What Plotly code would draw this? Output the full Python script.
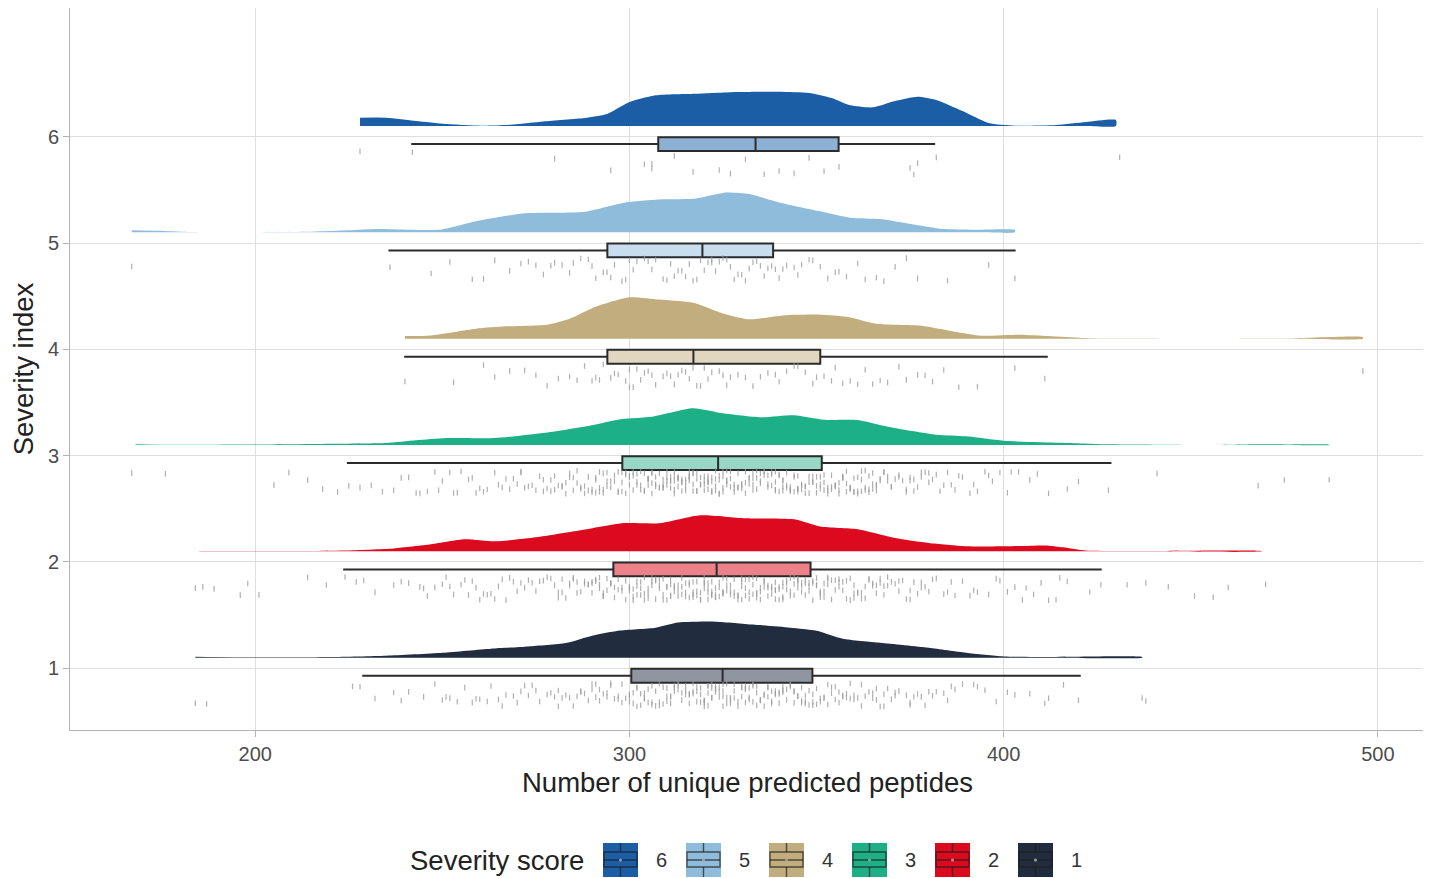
import plotly.graph_objects as go

# ---------------- data ----------------
severity_levels = [6, 5, 4, 3, 2, 1]
legend_labels = ["6", "5", "4", "3", "2", "1"]

# box statistics (number of unique predicted peptides), levels 6..1
box_lower = [241.7, 235.6, 239.8, 224.5, 223.5, 228.6]
box_q1 = [307.7, 294.1, 294.1, 298.1, 295.7, 300.5]
box_median = [333.7, 319.5, 317.1, 323.7, 323.3, 324.9]
box_q3 = [355.9, 338.4, 351.0, 351.4, 348.4, 348.9]
box_upper = [381.7, 403.2, 411.8, 428.8, 426.2, 420.6]

# half-violin density outlines (x = peptides, h = scaled density height)
dens6_x = [228, 235, 243, 251, 261, 269, 277, 288, 294, 300, 307, 318, 329, 340, 348, 354, 359, 365, 371, 377, 382, 389, 396, 403, 414, 422, 430]
dens6_h = [0.078, 0.078, 0.047, 0.019, 0.003, 0.014, 0.042, 0.075, 0.113, 0.226, 0.289, 0.304, 0.320, 0.323, 0.311, 0.264, 0.195, 0.176, 0.235, 0.276, 0.245, 0.141, 0.028, 0.003, 0.009, 0.038, 0.056]

dens5_x = [167, 174, 182, 193, 214, 225, 233, 244, 250, 259, 272, 282, 288, 299, 309, 317, 326, 332, 340, 351, 359, 367, 374, 383, 394, 403]
dens5_h = [0.019, 0.014, 0.003, 0.0005, 0.005, 0.019, 0.031, 0.022, 0.028, 0.104, 0.179, 0.184, 0.193, 0.282, 0.311, 0.315, 0.375, 0.360, 0.282, 0.198, 0.138, 0.125, 0.085, 0.035, 0.025, 0.022]

dens4_x = [240, 247, 259, 267, 278, 284, 291, 300, 308, 317, 325, 332, 341, 351, 358, 366, 378, 387, 394, 404, 412, 421, 429, 455, 477, 496]
dens4_h = [0.025, 0.031, 0.094, 0.116, 0.132, 0.188, 0.301, 0.390, 0.368, 0.338, 0.238, 0.182, 0.219, 0.226, 0.207, 0.141, 0.122, 0.066, 0.028, 0.038, 0.025, 0.007, 0.001, 0.0, 0.003, 0.014]

dens3_x = [168, 176, 201, 222, 235, 243, 251, 264, 277, 289, 298, 306, 317, 325, 335, 344, 352, 361, 369, 382, 390, 400, 415, 428, 442, 457, 468, 476, 487]
dens3_h = [0.007, 0.003, 0.005, 0.012, 0.019, 0.044, 0.066, 0.066, 0.113, 0.179, 0.245, 0.266, 0.346, 0.298, 0.261, 0.280, 0.238, 0.235, 0.172, 0.097, 0.082, 0.040, 0.022, 0.007, 0.003, 0.0005, 0.007, 0.005, 0.003]

dens2_x = [185, 209, 224, 237, 247, 256, 264, 275, 287, 298, 308, 319, 331, 344, 351, 361, 371, 380, 390, 401, 411, 416, 422, 437, 469]
dens2_h = [0.003, 0.003, 0.009, 0.028, 0.066, 0.113, 0.094, 0.132, 0.198, 0.264, 0.264, 0.339, 0.311, 0.301, 0.233, 0.207, 0.125, 0.078, 0.047, 0.047, 0.056, 0.038, 0.007, 0.003, 0.003]

dens1_x = [184, 200, 220, 235, 250, 263, 273, 283, 290, 297, 307, 313, 323, 333, 343, 350, 357, 367, 380, 390, 400, 413, 437]
dens1_h = [0.009, 0.003, 0.007, 0.019, 0.047, 0.085, 0.106, 0.138, 0.207, 0.254, 0.282, 0.330, 0.339, 0.311, 0.282, 0.254, 0.179, 0.141, 0.094, 0.047, 0.012, 0.007, 0.007]

# individual samples (number of unique predicted peptides)
pts6 = [228, 242, 280, 295, 304, 306, 306, 312, 317, 324, 327, 331, 336, 340, 344, 348, 352, 356, 375, 376, 377, 382, 431]

pts5 = [167, 236, 247, 252, 258, 261, 264, 268, 271, 273, 275, 277, 279, 280, 282, 284, 285, 287, 289, 290,
        291, 293, 294, 295, 296, 298, 299, 300, 301, 302, 304, 305, 306, 307, 309, 310, 311, 312, 313, 314,
        315, 316, 317, 318, 319, 320, 321, 322, 322, 323, 324, 325, 326, 327, 328, 329, 330, 331, 332, 333,
        334, 335, 336, 337, 338, 339, 340, 341, 342, 344, 345, 346, 348, 349, 351, 353, 355, 356, 358, 361,
        363, 366, 368, 371, 374, 377, 385, 396, 403]

pts4 = [240, 253, 261, 264, 268, 272, 275, 278, 281, 284, 286, 288, 290, 291, 292, 293, 295, 296, 297, 299,
        300, 300, 301, 302, 303, 304, 305, 306, 307, 309, 310, 311, 312, 313, 314, 315, 316, 317, 318, 319,
        320, 321, 322, 324, 325, 326, 327, 329, 331, 333, 335, 337, 339, 340, 342, 344, 345, 347, 349, 350,
        352, 354, 355, 357, 359, 361, 363, 365, 367, 369, 372, 374, 377, 379, 381, 384, 388, 393, 403, 411, 496]

pts3 = [167, 176, 214, 222, 225, 231, 237, 241, 244, 246, 248, 250, 252, 254, 255, 257, 259,
        260, 262, 264, 265, 267, 269, 270, 271, 272, 273, 275, 276, 277, 278, 279,
        280, 280, 281, 282, 283, 283, 284, 285, 286, 286, 287, 288, 289, 289,
        290, 290, 291, 291, 292, 292, 293, 293, 294, 294, 295, 295, 296, 297, 297, 298, 298, 299, 299,
        300, 300, 301, 301, 302, 302, 303, 303, 304, 304, 305, 305, 305, 306, 306, 307, 307, 308, 308, 309, 309, 309,
        310, 310, 310, 311, 311, 311, 312, 312, 312, 313, 313, 313, 314, 314, 314, 315, 315, 315, 316, 316, 316,
        317, 317, 317, 318, 318, 319, 319,
        320, 320, 320, 321, 321, 321, 322, 322, 322, 323, 323, 324, 324, 324, 325, 325, 326, 326, 326, 327, 327,
        328, 328, 329, 329,
        330, 330, 331, 331, 332, 332, 333, 333, 333, 334, 334, 335, 335, 336, 336, 337, 337, 338, 338, 339, 339, 339,
        340, 340, 341, 341, 341, 342, 342, 343, 343, 343, 344, 344, 345, 345, 345, 346, 346, 347, 347, 348, 348, 349, 349,
        350, 350, 351, 351, 352, 352, 353, 353, 354, 354, 355, 355, 356, 356, 357, 357, 358, 358, 359, 359,
        360, 360, 361, 361, 362, 362, 363, 363, 364, 364, 365, 365, 366, 366, 367, 368, 368, 369,
        370, 371, 372, 373, 374, 375, 375, 376, 377, 378, 379, 380, 381, 383, 384, 386, 387, 389,
        391, 393, 395, 397, 399, 401, 404, 407, 412, 417, 428, 441, 468, 475, 487,
        205, 209, 218, 228, 234, 239, 243, 249, 253, 258, 261, 266, 268, 271, 274, 277, 279, 282, 284, 285,
        287, 288, 291, 292, 293, 294, 296, 297, 298, 299, 300, 301, 302, 303, 304, 305, 306, 306, 307, 308,
        309, 310, 311, 312, 312, 313, 314, 315, 316, 316, 317, 318, 318, 319, 320, 321, 321, 322, 323, 323,
        324, 325, 325, 326, 327, 328, 329, 330, 331, 332, 333, 334, 335, 336, 337, 338, 339, 340, 341, 342,
        343, 344, 345, 346, 347, 348, 349, 350, 351, 352, 353, 354, 355, 356, 357, 358, 359, 360, 361, 362,
        363, 364, 365, 366, 367, 369, 370, 372, 374, 376, 378, 380, 382, 385, 388, 392, 396, 402, 409, 420]

pts2 = [184, 189, 196, 198, 214, 224, 227, 232, 237, 241, 244, 246, 248,
        250, 252, 253, 255, 256, 258, 259, 260, 261, 263, 264, 265, 266, 268, 269,
        270, 271, 273, 274, 275, 276, 278, 279,
        280, 281, 281, 282, 283, 284, 285, 285, 286, 287, 288, 288, 289,
        290, 290, 291, 291, 292, 292, 293, 293, 294, 294, 295, 295, 296, 296, 297, 298, 298, 299,
        300, 300, 301, 301, 302, 302, 303, 303, 304, 304, 305, 305, 306, 306, 307, 307, 308, 308, 309, 309,
        310, 310, 311, 311, 311, 312, 312, 313, 313, 314, 314, 315, 315, 316, 316, 317, 317, 317, 318, 318, 319, 319,
        320, 320, 320, 321, 321, 321, 322, 322, 322, 323, 323, 323, 324, 324, 325, 325, 325, 326, 326, 327, 327,
        328, 328, 329, 329,
        330, 330, 330, 331, 331, 332, 332, 333, 333, 334, 334, 334, 335, 335, 336, 336, 337, 337, 338, 338, 339, 339, 339,
        340, 340, 341, 341, 341, 342, 342, 343, 343, 344, 344, 345, 345, 345, 346, 346, 347, 347, 348, 348, 349, 349,
        350, 350, 351, 351, 352, 352, 353, 353, 354, 355, 355, 356, 356, 357, 357, 358, 359, 359,
        360, 360, 361, 362, 362, 363, 364, 364, 365, 366, 366, 367, 368, 368, 369,
        370, 371, 372, 373, 374, 375, 376, 377, 378, 379, 380, 382, 384, 385, 387, 389,
        391, 393, 396, 398, 401, 403, 406, 408, 410, 412, 414, 417, 423, 426,
        438, 444, 451, 460, 470,
        186, 201, 219, 229, 239, 245, 251, 257, 262, 267, 272, 277, 282, 284, 286, 289, 290, 292, 293, 295,
        297, 299, 300, 301, 302, 303, 304, 305, 306, 307, 308, 309, 310, 311, 312, 313, 314, 315, 316, 317,
        318, 319, 320, 321, 322, 323, 324, 325, 326, 327, 328, 329, 330, 331, 332, 333, 334, 335, 336, 337,
        338, 339, 340, 341, 342, 343, 344, 345, 346, 347, 348, 349, 350, 351, 352, 353, 354, 356, 358, 360,
        361, 363, 365, 367, 369, 372, 375, 378, 381, 386, 392, 399, 405, 415, 433, 456]

pts1 = [184, 187, 228, 232, 237, 241, 245, 248, 250, 252, 254, 256, 258,
        260, 262, 263, 265, 267, 269, 270, 271, 272, 274, 275, 276, 278, 279,
        280, 281, 282, 283, 284, 285, 286, 287, 288, 289,
        290, 290, 291, 292, 292, 293, 294, 294, 295, 296, 297, 297, 298, 299,
        300, 300, 301, 301, 302, 302, 303, 303, 304, 304, 305, 305, 306, 306, 307, 307, 308, 308, 309,
        310, 310, 310, 311, 311, 312, 312, 313, 313, 314, 314, 315, 315, 316, 316, 317, 317, 318, 318, 318, 319, 319,
        320, 320, 320, 321, 321, 321, 322, 322, 322, 323, 323, 323, 324, 324, 325, 325, 325, 326, 326, 327, 327,
        328, 328, 329,
        330, 330, 331, 331, 331, 332, 332, 333, 333, 334, 334, 335, 335, 336, 336, 337, 337, 338, 338, 339, 339, 339,
        340, 340, 341, 341, 342, 342, 343, 343, 344, 344, 345, 345, 346, 346, 347, 347, 348, 348, 349, 349,
        350, 350, 351, 352, 352, 353, 354, 354, 355, 356, 356, 357, 358, 358, 359, 359,
        360, 361, 362, 363, 364, 365, 366, 366, 367, 368, 369, 370, 371, 372, 374, 375, 376, 377, 378, 379,
        381, 382, 384, 385, 387, 389, 392, 395, 398, 403, 407, 412, 416, 420, 437, 438,
        226, 239, 251, 259, 266, 273, 281, 287, 291, 295, 298, 300, 302, 304, 306, 308, 309, 311, 312, 313,
        315, 316, 317, 319, 320, 321, 322, 323, 324, 325, 326, 327, 328, 329, 330, 331, 332, 333, 334, 335,
        336, 337, 338, 340, 341, 343, 344, 346, 347, 349, 351, 353, 355, 357, 360, 362, 365, 368, 371, 375,
        380, 386, 393, 401, 411]

dens_x = {6: dens6_x, 5: dens5_x, 4: dens4_x, 3: dens3_x, 2: dens2_x, 1: dens1_x}
dens_h = {6: dens6_h, 5: dens5_h, 4: dens4_h, 3: dens3_h, 2: dens2_h, 1: dens1_h}
points = {6: pts6, 5: pts5, 4: pts4, 3: pts3, 2: pts2, 1: pts1}

# ---------------- style ----------------
dens_color = {6: "#1B5EA6", 5: "#8FBCDB", 4: "#C1AD7D", 3: "#1DAF85", 2: "#DC0A1E", 1: "#212C3E"}
box_fill = {6: "#8DB0D5", 5: "#C8DEEE", 4: "#E1D7C0", 3: "#97D8C4", 2: "#EC8189", 1: "#9096A0"}
DENS_BASE = 0.10      # density baseline offset above the level
BOX_POS = -0.07       # box centre offset below the level
BOX_W = 0.13
JIT_TOP, JIT_SPAN = -0.14, 0.22
FONT = "Liberation Sans, Arial, sans-serif"
TITLE_SIZE = 27.5
TICK_SIZE = 20

# page geometry (the page body adds an 8px offset)
FIG_W, FIG_H = 1423, 870
M_L, M_R, M_T, M_B = 62, 6, 0, 148
PLOT_W = FIG_W - M_L - M_R
PLOT_H = FIG_H - M_T - M_B


def px_to_paper(px, py):
    """window pixel -> paper coordinates (plot area starts at window 70, 8)"""
    return (px - (8 + M_L)) / PLOT_W, ((8 + M_T + PLOT_H) - py) / PLOT_H


fig = go.Figure()

for i, lvl in enumerate(severity_levels):
    # jittered raw points (vertical jitter only, deterministic quadratic Weyl sequence)
    xs = points[lvl]
    ys = [lvl + JIT_TOP - JIT_SPAN * ((k * k * 0.6180339887 + k * 0.4142135 + 0.37 * i) % 1.0)
          for k in range(len(xs))]
    fig.add_trace(go.Scatter(
        x=xs, y=ys, mode="markers",
        marker=dict(symbol="line-ns", size=4, line=dict(width=1.2, color="rgba(155,155,155,0.8)")),
        showlegend=False, hoverinfo="skip"))

    # half-violin density
    bx = dens_x[lvl]
    base = lvl + DENS_BASE
    px = list(bx) + list(reversed(bx))
    py = [base + h for h in dens_h[lvl]] + [base] * len(bx)
    fig.add_trace(go.Scatter(
        x=px, y=py, mode="lines", fill="toself",
        fillcolor=dens_color[lvl], line=dict(color=dens_color[lvl], width=0, shape="spline", smoothing=0.6),
        showlegend=False, hoverinfo="skip"))

    # precomputed boxplot
    fig.add_trace(go.Box(
        orientation="h", y=[lvl + BOX_POS],
        q1=[box_q1[i]], median=[box_median[i]], q3=[box_q3[i]],
        lowerfence=[box_lower[i]], upperfence=[box_upper[i]],
        width=BOX_W, whiskerwidth=0, boxpoints=False,
        fillcolor=box_fill[lvl], line=dict(color="#2b2b2b", width=2),
        showlegend=False, hoverinfo="skip"))

# ---------------- manual legend (ggplot-style keys) ----------------
shapes = []
annotations = []
LEG_CY = 860
KEY_X0, KEY_STEP, KEY_W, KEY_H = 603, 83, 35, 34
KEY_LINE = dict(width=1.4, color="rgba(30,30,30,0.7)")
tx, ty = px_to_paper(497, LEG_CY)
annotations.append(dict(x=tx, y=ty, xref="paper", yref="paper", text="Severity score", showarrow=False,
                        xanchor="center", yanchor="middle", font=dict(size=TITLE_SIZE, color="#222222", family=FONT)))
for i, lvl in enumerate(severity_levels):
    x0 = KEY_X0 + KEY_STEP * i
    x1 = x0 + KEY_W
    y0, y1 = LEG_CY - KEY_H / 2, LEG_CY + KEY_H / 2
    xc = (x0 + x1) / 2
    bt, bb = LEG_CY - 8, LEG_CY + 7
    a0, b0 = px_to_paper(x0, y1)
    a1, b1 = px_to_paper(x1, y0)
    shapes.append(dict(type="rect", xref="paper", yref="paper", x0=a0, x1=a1, y0=b0, y1=b1,
                       fillcolor=dens_color[lvl], line=dict(width=0), layer="above"))
    c0, d0 = px_to_paper(x0 + 1, bb)
    c1, d1 = px_to_paper(x1 - 1, bt)
    shapes.append(dict(type="rect", xref="paper", yref="paper", x0=c0, x1=c1, y0=d0, y1=d1,
                       line=KEY_LINE, layer="above"))
    m0, mm = px_to_paper(x0 + 1, LEG_CY)
    m1, _ = px_to_paper(x1 - 1, LEG_CY)
    shapes.append(dict(type="line", xref="paper", yref="paper", x0=m0, x1=m1, y0=mm, y1=mm,
                       line=KEY_LINE, layer="above"))
    wx, wt = px_to_paper(xc, y0)
    _, wb = px_to_paper(xc, bt)
    shapes.append(dict(type="line", xref="paper", yref="paper", x0=wx, x1=wx, y0=wt, y1=wb,
                       line=KEY_LINE, layer="above"))
    _, wt2 = px_to_paper(xc, bb)
    _, wb2 = px_to_paper(xc, y1)
    shapes.append(dict(type="line", xref="paper", yref="paper", x0=wx, x1=wx, y0=wt2, y1=wb2,
                       line=KEY_LINE, layer="above"))
    # centre dot (point key)
    p0, q0 = px_to_paper(xc - 1.5, LEG_CY + 1.5)
    p1, q1 = px_to_paper(xc + 1.5, LEG_CY - 1.5)
    shapes.append(dict(type="circle", xref="paper", yref="paper", x0=p0, x1=p1, y0=q0, y1=q1,
                       fillcolor="rgba(170,170,170,0.9)", line=dict(width=0), layer="above"))
    lx, ly = px_to_paper(x0 + 58, LEG_CY)
    annotations.append(dict(x=lx, y=ly, xref="paper", yref="paper", text=legend_labels[i], showarrow=False,
                            xanchor="center", yanchor="middle", font=dict(size=TICK_SIZE, color="#333333", family=FONT)))

axis_common = dict(
    showgrid=True, gridcolor="#DEDEDE", gridwidth=1, zeroline=False,
    showline=True, linecolor="#B3B3B3", linewidth=1, mirror=True,
    ticks="outside", ticklen=6, tickcolor="#B3B3B3",
    tickfont=dict(family=FONT, size=TICK_SIZE, color="#4D4D4D"),
)

fig.update_layout(
    width=FIG_W, height=FIG_H,
    margin=dict(l=M_L, r=M_R, t=M_T, b=M_B),
    paper_bgcolor="white", plot_bgcolor="white",
    font=dict(family=FONT, color="#222222"),
    showlegend=False,
    xaxis=dict(range=[150.5, 512.6], tickvals=[200, 300, 400, 500],
               title=dict(text="Number of unique predicted peptides", font=dict(size=TITLE_SIZE, color="#222222"), standoff=8),
               **axis_common),
    yaxis=dict(range=[0.42, 7.21], tickvals=[1, 2, 3, 4, 5, 6],
               title=dict(text="Severity index", font=dict(size=TITLE_SIZE, color="#222222"), standoff=8),
               **axis_common),
    shapes=shapes,
    annotations=annotations,
)

fig.write_html("out.html")
